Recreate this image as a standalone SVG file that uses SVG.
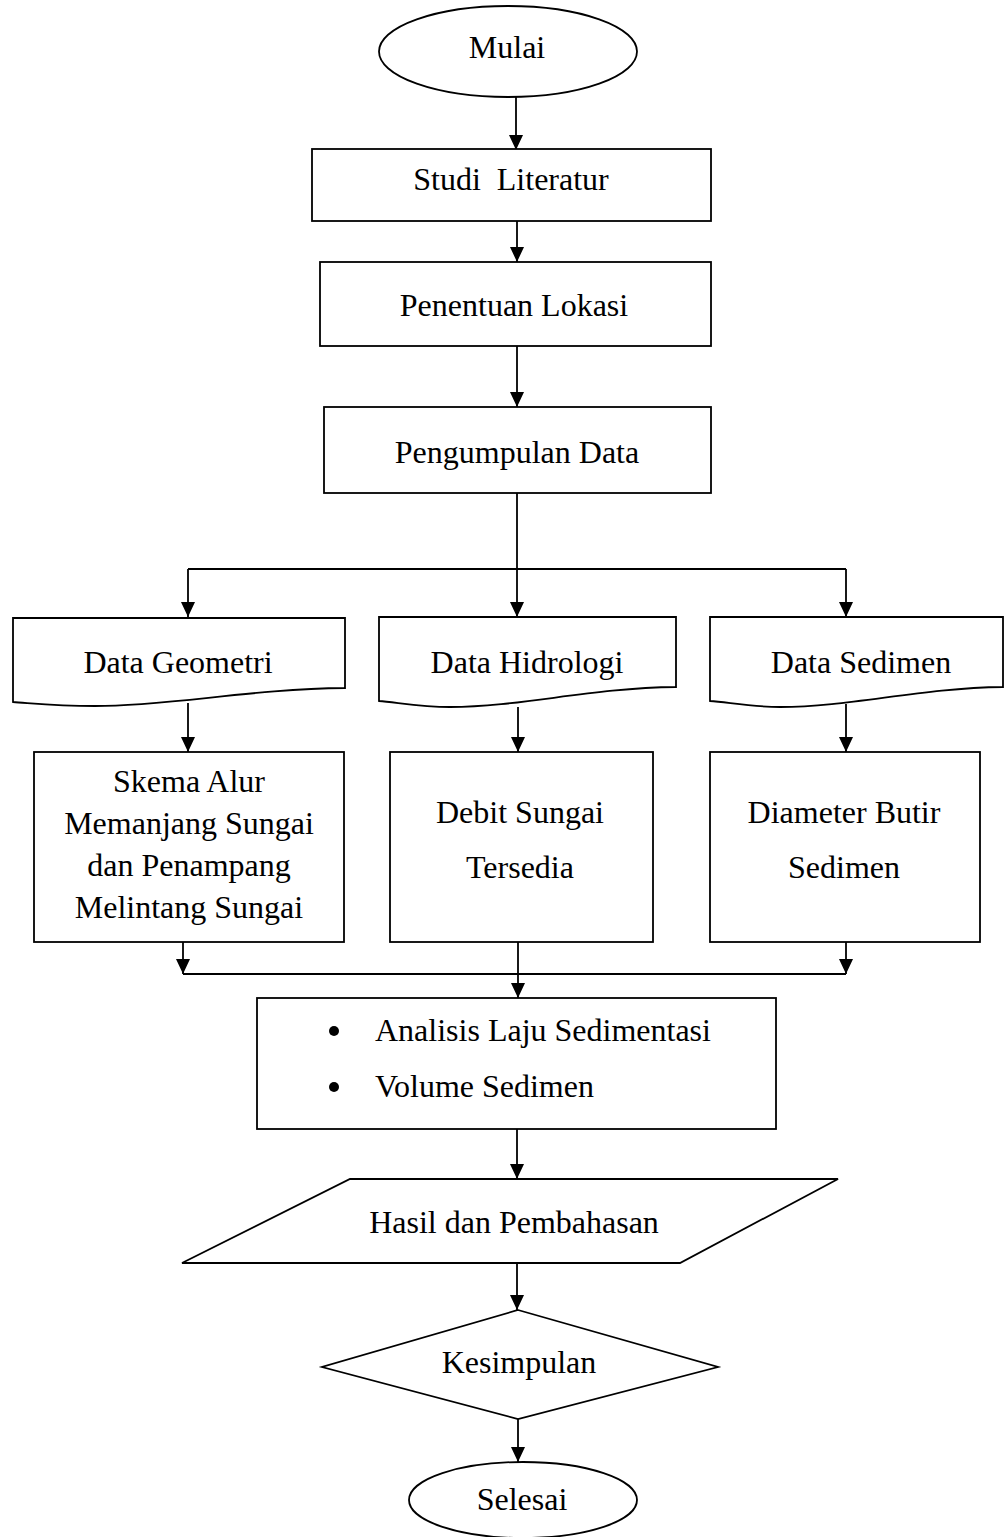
<svg xmlns="http://www.w3.org/2000/svg" width="1004" height="1537" viewBox="0 0 1004 1537">
<defs>
<marker id="ah" markerUnits="userSpaceOnUse" markerWidth="15" markerHeight="14" refX="15" refY="7" orient="auto">
<path d="M0,0 L15,7 L0,14 z" fill="#000"/>
</marker>
<style>
.s{fill:#fff;stroke:#000;stroke-width:1.8}
.t{font-family:"Liberation Serif","Times New Roman",serif;font-size:32px;fill:#000;text-anchor:middle;white-space:pre}
.tl{font-family:"Liberation Serif","Times New Roman",serif;font-size:32px;fill:#000;white-space:pre}
.c{fill:none;stroke:#000;stroke-width:1.8}
.a{fill:none;stroke:#000;stroke-width:1.8;marker-end:url(#ah)}
</style>
</defs>
<rect width="1004" height="1537" fill="#fff"/>

<g id="connectors">
<path class="a" d="M516,97 V150"/>
<path class="a" d="M517,221 V262"/>
<path class="a" d="M517,346 V407"/>
<path class="a" d="M517,493 V617"/>
<path class="c" d="M188,569 H846"/>
<path class="a" d="M188,569 V617"/>
<path class="a" d="M846,569 V617"/>
<path class="a" d="M188,703 V752"/>
<path class="a" d="M518,707 V752"/>
<path class="a" d="M846,704 V752"/>
<path class="a" d="M183,942 V974"/>
<path class="a" d="M846,942 V974"/>
<path class="c" d="M183,974 H846"/>
<path class="a" d="M518,942 V998"/>
<path class="a" d="M517,1129 V1179"/>
<path class="a" d="M517,1263 V1310"/>
<path class="a" d="M518,1419 V1462"/>
</g>

<g id="mulai">
<ellipse class="s" cx="508" cy="51.5" rx="129" ry="45.5"/>
<text class="t" x="507" y="58">Mulai</text>
</g>

<g id="studi-literatur">
<rect class="s" x="312" y="149" width="399" height="72"/>
<text class="t" x="511" y="190">Studi  Literatur</text>
</g>

<g id="penentuan-lokasi">
<rect class="s" x="320" y="262" width="391" height="84"/>
<text class="t" x="514" y="316">Penentuan Lokasi</text>
</g>

<g id="pengumpulan-data">
<rect class="s" x="324" y="407" width="387" height="86"/>
<text class="t" x="517" y="463">Pengumpulan Data</text>
</g>

<g id="data-geometri">
<path class="s" d="M13,618 H345 V688 C250,689 170,706 95,706 C55,706 30,703 13,702 Z"/>
<text class="t" x="178" y="673">Data Geometri</text>
</g>

<g id="data-hidrologi">
<path class="s" d="M379,617 H676 V687 C590,688 520,707 450,707 C420,707 395,702 379,701 Z"/>
<text class="t" x="527" y="673">Data Hidrologi</text>
</g>

<g id="data-sedimen">
<path class="s" d="M710,617 H1003 V687 C920,688 850,707 780,707 C750,707 727,702 710,701 Z"/>
<text class="t" x="861" y="673">Data Sedimen</text>
</g>

<g id="skema">
<rect class="s" x="34" y="752" width="310" height="190"/>
<text class="t" x="189" y="792">Skema Alur</text>
<text class="t" x="189" y="834">Memanjang Sungai</text>
<text class="t" x="189" y="876">dan Penampang</text>
<text class="t" x="189" y="918">Melintang Sungai</text>
</g>

<g id="debit">
<rect class="s" x="390" y="752" width="263" height="190"/>
<text class="t" x="520" y="823">Debit Sungai</text>
<text class="t" x="520" y="878">Tersedia</text>
</g>

<g id="diameter">
<rect class="s" x="710" y="752" width="270" height="190"/>
<text class="t" x="844" y="823">Diameter Butir</text>
<text class="t" x="844" y="878">Sedimen</text>
</g>

<g id="analisis">
<rect class="s" x="257" y="998" width="519" height="131"/>
<circle cx="334" cy="1031" r="5"/>
<text class="tl" x="375" y="1041">Analisis Laju Sedimentasi</text>
<circle cx="334" cy="1087" r="5"/>
<text class="tl" x="375" y="1097">Volume Sedimen</text>
</g>

<g id="hasil">
<path class="s" d="M350,1179 H838 L680,1263 H182 Z"/>
<text class="t" x="514" y="1233">Hasil dan Pembahasan</text>
</g>

<g id="kesimpulan">
<path class="s" d="M518,1310 L718,1367 L518,1419 L322,1367 Z"/>
<text class="t" x="519" y="1373">Kesimpulan</text>
</g>

<g id="selesai">
<ellipse class="s" cx="523" cy="1500" rx="114" ry="38"/>
<text class="t" x="522" y="1510">Selesai</text>
</g>
</svg>
